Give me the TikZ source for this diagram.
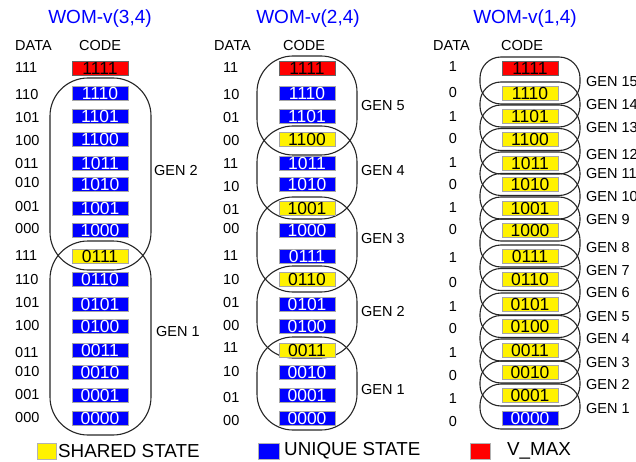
\documentclass[tikz,border=0pt]{standalone}
\usepackage{fontspec}
\setmainfont{Liberation Sans}
\begin{document}
\begin{tikzpicture}[x=1pt,y=-1pt,
  codebox/.style={minimum width=56pt, minimum height=14pt, inner sep=0pt,
    draw=gray!70, line width=0.5pt, font=\fontsize{17.5}{18}\selectfont},
  uniq/.style={codebox, fill=blue, text=white},
  shared/.style={codebox, fill=yellow, text=black},
  vmax/.style={codebox, fill=red, text=black, draw=black!60},
  lbl/.style={font=\fontsize{14.5}{16}\selectfont, inner sep=0pt},
  datal/.style={lbl, anchor=west},
  genl/.style={lbl, anchor=west},
  title/.style={font=\fontsize{19}{20}\selectfont, text=blue, inner sep=0pt, anchor=base},
  genline/.style={line width=1.1pt, draw=black!85},
  legbox/.style={minimum width=20pt, minimum height=16pt, inner sep=0pt, draw=gray!60, line width=0.5pt},
  legtext/.style={font=\fontsize{18.8}{20}\selectfont, inner sep=0pt, anchor=west}]
\path[use as bounding box] (0,0) rectangle (636,462);
\clip (0,0) rectangle (636,462);

% ---------- titles and headers ----------
\node[title] (t1) at (100,23.5) {WOM-v(3,4)};
\node[title] (t2) at (308,23.5) {WOM-v(2,4)};
\node[title] (t3) at (525,23.5) {WOM-v(1,4)};
\foreach \x/\n in {15/h1, 214/h2, 433/h3}
  \node[datal] (\n d) at (\x,46) {DATA};
\foreach \x/\n in {100/h1, 304/h2, 522/h3}
  \node[lbl] (\n c) at (\x,46) {CODE};

% ---------- generation groups ----------
\draw[genline, rounded corners=38pt] (50,78) rectangle (151,270);
\draw[genline, rounded corners=38pt] (50,241) rectangle (151,435);

\foreach \t/\b in {56/155, 126/219, 197/292, 266/358, 337/430}
  \draw[genline, rounded corners=36pt] (257,\t) rectangle (357,\b);

\foreach \t/\b in {57/104, 82/127, 105/150.5, 128.5/174, 152/195.5, 173.5/219,
    197/241, 219/267, 245/290.5, 268.5/315, 293/337.5, 315.5/361, 339/383,
    361/406, 384/429}
  \draw[genline, rounded corners=21pt] (480,\t) rectangle (580,\b);

% ---------- code words ----------
\foreach \y/\c/\s [count=\i] in {68/1111/vmax, 93/1110/uniq, 116/1101/uniq,
    139.5/1100/uniq, 163/1011/uniq, 184.5/1010/uniq, 208/1001/uniq, 230/1000/uniq,
    256/0111/shared, 279.5/0110/uniq, 304/0101/uniq, 326.5/0100/uniq,
    350/0011/uniq, 372/0010/uniq, 395/0001/uniq, 418/0000/uniq}
  \node[\s] (a\i) at (100,\y) {\c};

\foreach \y/\c/\s [count=\i] in {68/1111/vmax, 93/1110/uniq, 116/1101/uniq,
    139.5/1100/shared, 163/1011/uniq, 184.5/1010/uniq, 208/1001/shared, 230/1000/uniq,
    256/0111/uniq, 279.5/0110/shared, 304/0101/uniq, 326.5/0100/uniq,
    350/0011/shared, 372/0010/uniq, 395/0001/uniq, 418/0000/uniq}
  \node[\s] (b\i) at (307,\y) {\c};

\foreach \y/\c/\s [count=\i] in {68/1111/vmax, 93/1110/shared, 116/1101/shared,
    139.5/1100/shared, 163/1011/shared, 184.5/1010/shared, 208/1001/shared, 230/1000/shared,
    256/0111/shared, 279.5/0110/shared, 304/0101/shared, 326.5/0100/shared,
    350/0011/shared, 372/0010/shared, 395/0001/shared, 418/0000/uniq}
  \node[\s] (c\i) at (530,\y) {\c};

% ---------- data values ----------
\foreach \y/\d [count=\i] in {68/111, 95/110, 118/101, 141/100, 164/011, 183/010,
    207/001, 229/000, 256/111, 280/110, 303/101, 326/100, 353/011, 372/010,
    395/001, 418/000}
  \node[datal] (da\i) at (15,\y) {\d};

\foreach \y/\d [count=\i] in {68/11, 95/10, 118/01, 141/00, 164/11, 187/10,
    210/01, 229/00, 256/11, 280/10, 303/01, 326/00, 348/11, 372/10,
    398/01, 421/00}
  \node[datal] (db\i) at (223,\y) {\d};

\foreach \y/\d [count=\i] in {67/1, 93/0, 117/1, 139/0, 163/1, 185/0, 208/1,
    230/0, 258/1, 283/0, 307/1, 329/0, 353/1, 376/0, 399/1, 422/0}
  \node[lbl] (dc\i) at (453,\y) {\d};

% ---------- generation labels ----------
\node[genl] (ga2) at (154,171) {GEN 2};
\node[genl] (ga1) at (156,332) {GEN 1};

\foreach \y/\g in {106/5, 171/4, 239/3, 312/2, 390/1}
  \node[genl] (gb\g) at (361,\y) {GEN \g};

\foreach \y/\g in {82/15, 105/14, 128/13, 155/12, 174/11, 197/10, 220/9,
    248/8, 271/7, 293/6, 317/5, 339/4, 363/3, 385/2, 409/1}
  \node[genl] (gc\g) at (586,\y) {GEN \g};

% ---------- legend ----------
\node[legbox, fill=yellow, minimum width=19pt] (ly) at (46.5,451) {};
\node[legtext] (lyt) at (58,451) {SHARED STATE};
\node[legbox, fill=blue, minimum width=21pt] (lb) at (268.5,451) {};
\node[legtext] (lbt) at (284,451) {UNIQUE STATE};
\node[legbox, fill=red] (lr) at (480,451) {};
\node[legtext] (lrt) at (507,451) {V\_MAX};
\end{tikzpicture}
\end{document}
